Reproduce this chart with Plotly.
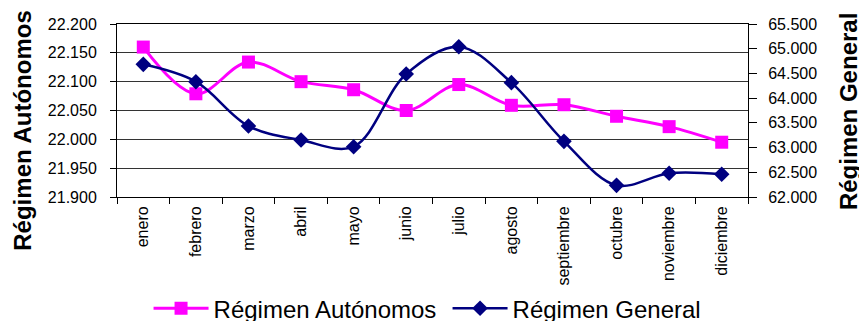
import plotly.graph_objects as go

meses = ["enero", "febrero", "marzo", "abril", "mayo", "junio", "julio",
         "agosto", "septiembre", "octubre", "noviembre", "diciembre"]
autonomos = [22160, 22079, 22134, 22100, 22086, 22050, 22095, 22059, 22060, 22040, 22022, 21995]
general = [64684, 64333, 63436, 63153, 63018, 64488, 65041, 64313, 63126, 62236, 62479, 62459]

FONT = "Liberation Sans, Arial, sans-serif"
PINK = "#FF00FF"
NAVY = "#000080"

fig = go.Figure()
fig.add_trace(go.Scatter(
    x=meses, y=autonomos, name="Régimen Autónomos", mode="lines+markers",
    line=dict(color=PINK, width=3, shape="spline", smoothing=1),
    marker=dict(symbol="square", size=13, color=PINK),
    yaxis="y"))
fig.add_trace(go.Scatter(
    x=meses, y=general, name="Régimen General", mode="lines+markers",
    line=dict(color=NAVY, width=2.5, shape="spline", smoothing=1),
    marker=dict(symbol="diamond", size=12, color=NAVY),
    yaxis="y2"))

fig.update_layout(
    width=859, height=321,
    margin=dict(l=117, r=111, t=24, b=124, autoexpand=False),
    paper_bgcolor="white", plot_bgcolor="white",
    separators=",.",
    font=dict(family=FONT, color="black", size=16),
    showlegend=True,
    legend=dict(orientation="h", x=0.05, xanchor="left", y=-0.645, yanchor="middle",
                font=dict(size=24, family=FONT), itemwidth=55,
                entrywidth=229, entrywidthmode="pixels",
                traceorder="normal", bgcolor="rgba(0,0,0,0)"),
    xaxis=dict(type="category", range=[-0.5, 11.5], tickson="boundaries",
               ticks="outside", ticklen=6, tickcolor="black",
               showline=True, linecolor="black", linewidth=1, mirror=True,
               showgrid=False, tickangle=-90, tickfont=dict(size=16),
               ticklabelstandoff=2),
    yaxis=dict(range=[21900, 22200], dtick=50, tickformat=",d",
               ticks="outside", ticklen=6, tickcolor="black",
               showline=True, linecolor="black", linewidth=1, mirror=True,
               showgrid=True, gridcolor="#333333", gridwidth=1,
               zeroline=False, tickfont=dict(size=16), ticklabelstandoff=10),
    yaxis2=dict(range=[62000, 65500], dtick=500, tickformat=",d",
                overlaying="y", side="right",
                ticks="outside", ticklen=8, tickcolor="black",
                showline=True, linecolor="black", linewidth=1,
                showgrid=False, zeroline=False, tickfont=dict(size=16),
                ticklabelstandoff=8),
    annotations=[
        dict(text="<b>Régimen Autónomos</b>", textangle=-90, xref="paper", yref="paper",
             x=-0.151, y=0.3815, xanchor="center", yanchor="middle", showarrow=False,
             font=dict(size=24, family=FONT)),
        dict(text="<b>Régimen General</b>", textangle=-90, xref="paper", yref="paper",
             x=1.1585, y=0.491, xanchor="center", yanchor="middle", showarrow=False,
             font=dict(size=24, family=FONT)),
    ],
)

fig.write_html("out.html", config={"displayModeBar": False},
               post_script="document.body.style.margin='0';document.body.style.overflow='hidden';")
